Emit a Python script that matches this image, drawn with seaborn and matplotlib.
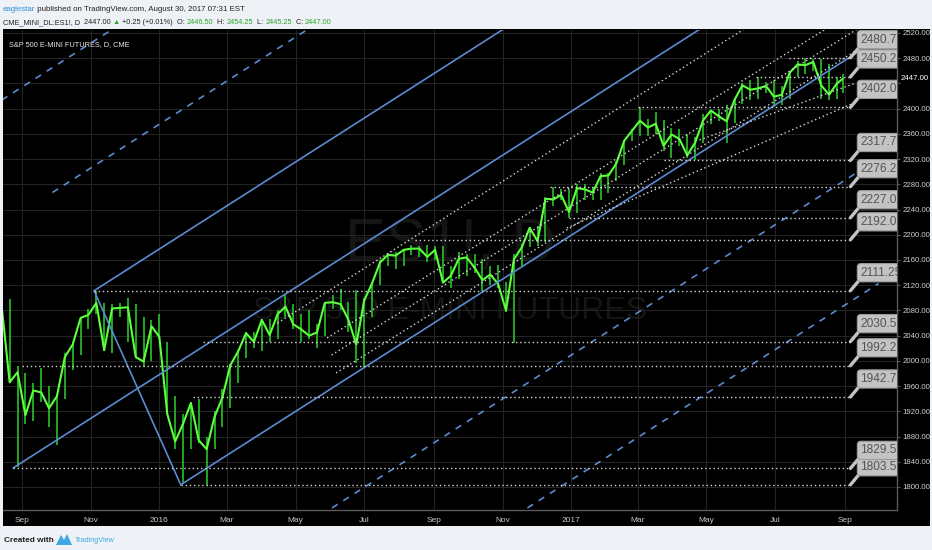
import matplotlib
matplotlib.use("Agg")
import matplotlib.pyplot as plt
from matplotlib.patches import Rectangle, Polygon
import pandas as pd
import seaborn as sns

W, H = 932, 550
FONT = ["Liberation Sans", "DejaVu Sans"]

# weekly ES1! bars (Friday of each week, last one = Aug 30 2017)
week_dates = list(pd.date_range("2015-08-14", "2017-08-25", freq="W-FRI")) + [pd.Timestamp("2017-08-30")]
week_close = [
    2085, 1966, 1982, 1914, 1953, 1950, 1925, 1944, 2006, 2026, 2068, 2073, 2092, 2017, 2083, 2084, 2085, 2006, 1999, 2055,
    2038, 1916, 1872, 1900, 1933, 1874, 1860, 1911, 1942, 1993, 2015, 2044, 2030, 2065, 2041, 2074, 2086, 2058, 2050, 2040,
    2045, 2092, 2093, 2090, 2065, 2026, 2096, 2123, 2156, 2168, 2167, 2176, 2178, 2178, 2165, 2176, 2124, 2135, 2162, 2164,
    2148, 2128, 2137, 2122, 2080, 2161, 2180, 2211, 2190, 2257, 2256, 2263, 2236,
    2274, 2272, 2267, 2293, 2294, 2313, 2349, 2365, 2381, 2370, 2376, 2341, 2359, 2352, 2326, 2346, 2381, 2397, 2388, 2380,
    2414, 2437, 2430, 2432, 2436, 2419, 2422, 2457, 2470, 2469, 2474, 2437, 2422, 2440, 2447,
]
week_high = [
    2100, 2098, 1992, 1980, 1965, 1988, 1960, 1948, 2012, 2030, 2070, 2082, 2111.25, 2092, 2090, 2092, 2100, 2090, 2070, 2065,
    2075, 2030, 1945, 1915, 1935, 1940, 1880, 1920, 1955, 1995, 2018, 2045, 2045, 2066, 2066, 2080, 2104, 2090, 2075, 2080,
    2058, 2094, 2104, 2114, 2094, 2112, 2100, 2125, 2160, 2171, 2172, 2178, 2184, 2182, 2184, 2182, 2182, 2150, 2172, 2170,
    2170, 2162, 2150, 2152, 2125, 2170, 2185, 2212, 2214, 2260, 2276.25, 2272, 2272,
    2280, 2280, 2275, 2298, 2298, 2317, 2350, 2368, 2402, 2384, 2395, 2382, 2370, 2368, 2360, 2355, 2392, 2398, 2400, 2405,
    2417, 2440, 2446, 2450.25, 2442, 2445, 2436, 2460, 2475, 2480.75, 2478, 2478, 2470, 2450, 2454.25,
]
week_low = [
    2070, 1965, 1831, 1900, 1905, 1935, 1895, 1867, 1940, 1985, 2010, 2050, 2075, 2015, 2012, 2070, 2030, 2005, 1990, 2000,
    2035, 1915, 1860, 1804, 1860, 1870, 1803.5, 1860, 1895, 1925, 1965, 2005, 2020, 2015, 2030, 2035, 2070, 2050, 2030, 2035,
    2021, 2040, 2082, 2080, 2045, 1997, 1991, 2070, 2120, 2150, 2145, 2150, 2168, 2165, 2156, 2160, 2124, 2115, 2130, 2135,
    2140, 2111, 2120, 2115, 2078, 2028, 2150, 2180, 2182, 2188, 2245, 2255, 2227,
    2235, 2255, 2255, 2255, 2266, 2285, 2310, 2348, 2356, 2357, 2360, 2333, 2322, 2340, 2322, 2317.75, 2345, 2375, 2380, 2345,
    2378, 2408, 2413, 2415, 2425, 2402, 2405, 2415, 2450, 2455, 2460, 2416, 2413, 2416, 2425,
]

# horizontal levels drawn on the chart, with the bar they start from
level_prices = [1803.50, 1829.50, 1942.75, 1992.25, 2030.50, 2111.25,
                2192.00, 2227.00, 2276.25, 2317.75, 2402.00, 2450.25, 2480.75]
level_starts = ["2016-01-20", "2015-08-24", "2016-01-31", "2015-09-01", "2016-02-09", "2015-11-04",
                "2016-08-15", "2016-12-30", "2016-12-13", "2017-03-24", "2017-03-01", "2017-06-14", "2017-07-13"]
level_end = "2017-09-06"

# drawn trend lines: (start date, start price, end date, end price)
channel_lines = [
    ("2015-08-24", 1830.0, "2017-09-14", 2687.7),
    ("2015-11-04", 2111.25, "2017-09-14", 2886.8),
    ("2016-01-20", 1803.5, "2017-09-12", 2489.0),
    ("2015-11-04", 2111.25, "2016-01-20", 1803.5),
]
dashed_lines = [
    ("2015-08-14", 2413.7, "2017-09-14", 3282.8),
    ("2015-09-28", 2267.0, "2017-09-14", 3084.8),
    ("2016-01-20", 1613.5, "2017-10-02", 2321.7),
    ("2016-01-20", 1415.5, "2017-10-01", 2122.6),
]
dotted_lines = [
    ("2016-04-15", 2060.0, "2017-09-12", 2639.0),
    ("2016-05-29", 2036.3, "2017-09-12", 2557.0),
    ("2016-06-02", 2009.3, "2017-09-12", 2526.0),
    ("2016-06-06", 1980.8, "2017-09-12", 2493.0),
    ("2016-12-28", 2210.7, "2017-09-09", 2409.0),
    ("2017-04-25", 2350.3, "2017-09-11", 2440.7),
]

price_ticks = list(range(1800, 2521, 40))
last_price = 2447.00
month_ticks = ["2015-09-01", "2015-11-01", "2016-01-01", "2016-03-01", "2016-05-01", "2016-07-01", "2016-09-01",
               "2016-11-01", "2017-01-01", "2017-03-01", "2017-05-01", "2017-07-01", "2017-09-01"]
month_labels = ["Sep", "Nov", "2016", "Mar", "May", "Jul", "Sep", "Nov", "2017", "Mar", "May", "Jul", "Sep"]

DARK = "#222222"
HEAD_GREEN = "#2aa52a"
header_line1 = [("eaglestar", "#2f8fd8"), (" published on TradingView.com, August 30, 2017 07:31 EST", DARK)]
header_line2 = [("CME_MINI_DL:ES1!, D", DARK), ("  2447.00 ", DARK), ("▲", HEAD_GREEN), (" +0.25 (+0.01%)", DARK),
                ("  O: ", DARK), ("2446.50", HEAD_GREEN), ("  H: ", DARK), ("2454.25", HEAD_GREEN),
                ("  L: ", DARK), ("2445.25", HEAD_GREEN), ("  C: ", DARK), ("2447.00", HEAD_GREEN)]

BLUE = "#5b8bd0"
DOT = "#d6d6d6"


def fx(px):
    return px / W


def fy(py):
    return 1 - py / H


def draw_runs(fig, x_px, y_px, runs, target_width, size=8.0, weight="normal"):
    """Write coloured text pieces one after another, scaled to span target_width pixels."""
    renderer = fig.canvas.get_renderer()
    probe = [fig.text(0, 0, s, fontsize=size, family=FONT, weight=weight) for s, _ in runs]
    total = sum(t.get_window_extent(renderer).width for t in probe)
    for t in probe:
        t.remove()
    size = size * target_width / total
    x = x_px
    for s, color in runs:
        t = fig.text(fx(x), fy(y_px), s, color=color, fontsize=size, family=FONT,
                     weight=weight, va="baseline", ha="left")
        x += t.get_window_extent(renderer).width
    return x


sns.set_style("dark")
plt.rcParams["font.family"] = FONT

fig = plt.figure(figsize=(W / 100, H / 100), dpi=100, facecolor="#eef1f6")
fig.patches.append(Rectangle((fx(3), fy(526)), fx(930) - fx(3), fy(29) - fy(526),
                             transform=fig.transFigure, facecolor="black", edgecolor="none", zorder=-1))

ax = fig.add_axes([fx(3), fy(510), fx(897) - fx(3), fy(30) - fy(510)])
ax.set_facecolor("black")

df = pd.DataFrame({"date": week_dates, "high": week_high, "low": week_low, "close": week_close})

# watermark
ax.text(0.5, 0.552, "ES1!, D", transform=ax.transAxes, ha="center", va="center",
        fontsize=44, color="#151515", family=FONT, zorder=0.3)
ax.text(0.5, 0.415, "S&P 500 E-MINI FUTURES", transform=ax.transAxes, ha="center", va="center",
        fontsize=23, color="#151515", family=FONT, zorder=0.3)

# price bars
ax.vlines(df["date"], df["low"], df["high"], color="#25b525", lw=1.3, zorder=2)
sns.lineplot(data=df, x="date", y="close", ax=ax, color="#5cff3c", lw=1.5, zorder=3)

# trend lines
for s, p0, e, p1 in channel_lines:
    ax.plot([pd.Timestamp(s), pd.Timestamp(e)], [p0, p1], color=BLUE, lw=1.2, zorder=4)
for s, p0, e, p1 in dashed_lines:
    ax.plot([pd.Timestamp(s), pd.Timestamp(e)], [p0, p1], color=BLUE, lw=1.2, ls=(0, (4, 4)), zorder=4)
for s, p0, e, p1 in dotted_lines:
    ax.plot([pd.Timestamp(s), pd.Timestamp(e)], [p0, p1], color=DOT, lw=1.0, ls=(0, (1, 2)), zorder=4)

end_ts = pd.Timestamp(level_end)
for p, s in zip(level_prices, level_starts):
    ax.plot([pd.Timestamp(s), end_ts], [p, p], color=DOT, lw=1.0, ls=(0, (1, 2)), zorder=4)
    ax.annotate(f"{p:.2f}", xy=(end_ts, p), xytext=(10, 18), textcoords="offset pixels",
                ha="left", va="center", fontsize=8.6, color="#545454", family=FONT,
                bbox=dict(boxstyle="round,pad=0.26,rounding_size=0.3", fc="#c3c3c3", ec="#9c9c9c", lw=0.8),
                arrowprops=dict(arrowstyle="-", color="#c3c3c3", lw=2.4, shrinkA=0, shrinkB=0, relpos=(0, 0)),
                clip_on=True, zorder=6)

ax.set_xlim(pd.Timestamp("2015-08-15 02:00"), pd.Timestamp("2017-10-17 09:00"))
ax.set_ylim(1763.5, 2524.7)
ax.set_xlabel("")
ax.set_ylabel("")

ax.set_xticks(pd.to_datetime(month_ticks))
ax.set_xticklabels(month_labels)
ax.yaxis.tick_right()
ax.set_yticks(price_ticks)
ax.set_yticklabels(["" if p == 2440 else f"{p:.2f}" for p in price_ticks])
ax.tick_params(axis="x", colors="#c8c8c8", labelsize=6.0, length=3, pad=2, color="#555555")
ax.tick_params(axis="y", colors="#d0d0d0", labelsize=5.6, length=2.5, pad=1.2, color="#555555")
ax.grid(True, color="#232323", lw=0.8)
ax.set_axisbelow(True)
for side in ["top", "left"]:
    ax.spines[side].set_visible(False)
for side in ["right", "bottom"]:
    ax.spines[side].set_visible(True)
    ax.spines[side].set_color("#5a5a5a")
    ax.spines[side].set_linewidth(1.0)

ax.annotate(f"{last_price:.2f}", xy=(1, last_price), xycoords=("axes fraction", "data"),
            xytext=(4, 0), textcoords="offset pixels", ha="left", va="center",
            fontsize=5.6, color="white", family=FONT, annotation_clip=False)

# header
draw_runs(fig, 3, 11, header_line1, 242)
draw_runs(fig, 3, 24, header_line2, 332)
renderer = fig.canvas.get_renderer()
t = ax.text(0, 0, "S&P 500 E-MINI FUTURES, D, CME", fontsize=7, family=FONT)
w = t.get_window_extent(renderer).width
t.remove()
fig.text(fx(9), fy(46), "S&P 500 E-MINI FUTURES, D, CME", color="#e6e6e6",
         fontsize=7 * 121 / w, family=FONT, va="baseline")

# footer
draw_runs(fig, 4, 542, [("Created with", "#1e1e1e")], 50, weight="bold")
fig.patches.append(Polygon([(fx(56), fy(545)), (fx(61), fy(535)), (fx(64), fy(540)), (fx(67), fy(534)), (fx(72), fy(545))],
                           closed=True, transform=fig.transFigure, facecolor="#3fa9e4", edgecolor="none"))
draw_runs(fig, 75, 542, [("TradingView", "#3fa9e4")], 40)

fig.savefig("out.png", dpi=100, facecolor=fig.get_facecolor())
